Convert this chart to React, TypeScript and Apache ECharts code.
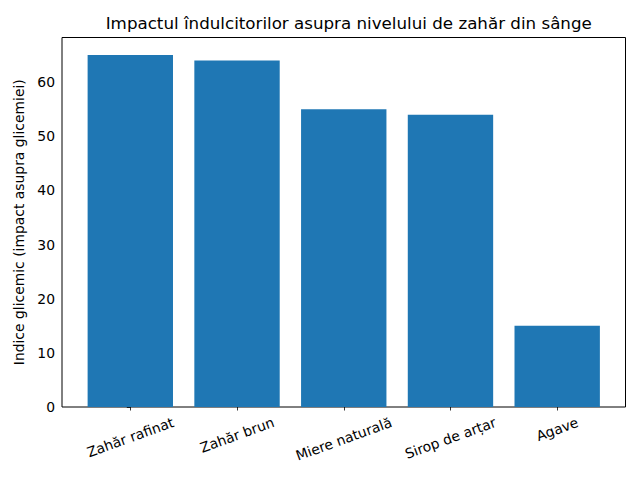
import React, { useEffect, useRef } from "react";
import * as echarts from "echarts";

const categories = ["Zahăr rafinat", "Zahăr brun", "Miere naturală", "Sirop de arțar", "Agave"];
const values = [65, 64, 55, 54, 15];
const yTicks = [0, 10, 20, 30, 40, 50, 60];
const titleText = "Impactul îndulcitorilor asupra nivelului de zahăr din sânge";
const yLabel = "Indice glicemic (impact asupra glicemiei)";

const FONT = "DejaVu Sans";
const W = 640;
const H = 480;
const PLOT_L = 62;
const PLOT_R = 625.5;
const PLOT_T = 37.5;
const PLOT_B = 407;
const YMAX = 68.25;
const XMIN = -0.64;
const XMAX = categories.length - 1 + 0.64;
const ROT = 20;
const FS = 13.9;

export default function App() {
  const ref = useRef<HTMLDivElement>(null);
  useEffect(() => {
    if (!ref.current) return;
    const chart = echarts.init(ref.current, null, { renderer: "svg", width: W, height: H });
    const pxPerUnit = (PLOT_R - PLOT_L) / (XMAX - XMIN);
    const barLeft = PLOT_L + (-0.5 - XMIN) * pxPerUnit;
    const barRight = PLOT_L + (categories.length - 0.5 - XMIN) * pxPerUnit;

    const cv = document.createElement("canvas");
    const ctx = cv.getContext("2d")!;
    ctx.font = `${FS}px "${FONT}"`;
    const s = Math.sin((ROT * Math.PI) / 180);
    const c = Math.cos((ROT * Math.PI) / 180);
    const lh = FS * 1.17;

    // one category axis per label so each rotated label's bbox top sits 7px below the axis
    const labelAxes = categories.map((name, i) => {
      const w = ctx.measureText(name).width;
      const d = (w * s + lh * c) / 2;
      return {
        type: "category",
        gridIndex: 1,
        position: "bottom",
        data: categories,
        axisLine: { show: false },
        axisTick: {
          show: i === 0,
          alignWithLabel: true,
          length: 3.5,
          inside: false,
          lineStyle: { color: "#000", width: 0.8 },
        },
        axisLabel: {
          interval: 0,
          rotate: ROT,
          align: "center",
          verticalAlign: "middle",
          lineHeight: lh,
          hideOverlap: false,
          margin: 7 + d,
          fontFamily: FONT,
          fontSize: FS,
          color: "#000",
          formatter: (v: string, idx: number) => (idx === i ? v : ""),
        },
        splitLine: { show: false },
      };
    });

    chart.setOption({
      animation: false,
      title: {
        text: titleText,
        left: (PLOT_L + PLOT_R) / 2,
        top: 9,
        textAlign: "center",
        textStyle: { fontFamily: FONT, fontSize: 16.7, fontWeight: "normal", color: "#000" },
      },
      grid: [
        {
          left: PLOT_L,
          right: W - PLOT_R,
          top: PLOT_T,
          bottom: H - PLOT_B,
          show: true,
          borderColor: "#000",
          borderWidth: 1,
          backgroundColor: "transparent",
          containLabel: false,
          outerBoundsMode: "none",
        },
        {
          left: barLeft,
          right: W - barRight,
          top: PLOT_T,
          bottom: H - PLOT_B,
          containLabel: false,
          outerBoundsMode: "none",
        },
      ],
      xAxis: [
        {
          type: "value",
          gridIndex: 0,
          min: XMIN,
          max: XMAX,
          show: false,
        },
        ...labelAxes,
      ],
      yAxis: [
        {
          type: "value",
          gridIndex: 0,
          min: 0,
          max: YMAX,
          interval: 10,
          axisLine: { show: false },
          axisTick: { show: true, length: 3.5, lineStyle: { color: "#000", width: 0.8 } },
          axisLabel: {
            margin: 7,
            fontFamily: FONT,
            fontSize: FS,
            color: "#000",
            showMaxLabel: false,
            formatter: (v: number) => (yTicks.includes(v) ? String(v) : ""),
          },
          splitLine: { show: false },
          name: yLabel,
          nameLocation: "middle",
          nameGap: 34,
          nameRotate: 90,
          nameTextStyle: { fontFamily: FONT, fontSize: FS, color: "#000" },
        },
        {
          type: "value",
          gridIndex: 1,
          min: 0,
          max: YMAX,
          show: false,
        },
      ],
      series: [
        {
          type: "bar",
          xAxisIndex: 1,
          yAxisIndex: 1,
          data: values,
          barWidth: "80%",
          itemStyle: { color: "#1f77b4" },
        },
      ],
    });
    return () => chart.dispose();
  }, []);
  return <div ref={ref} style={{ position: "absolute", left: 0, top: 0, width: W, height: H }} />;
}
